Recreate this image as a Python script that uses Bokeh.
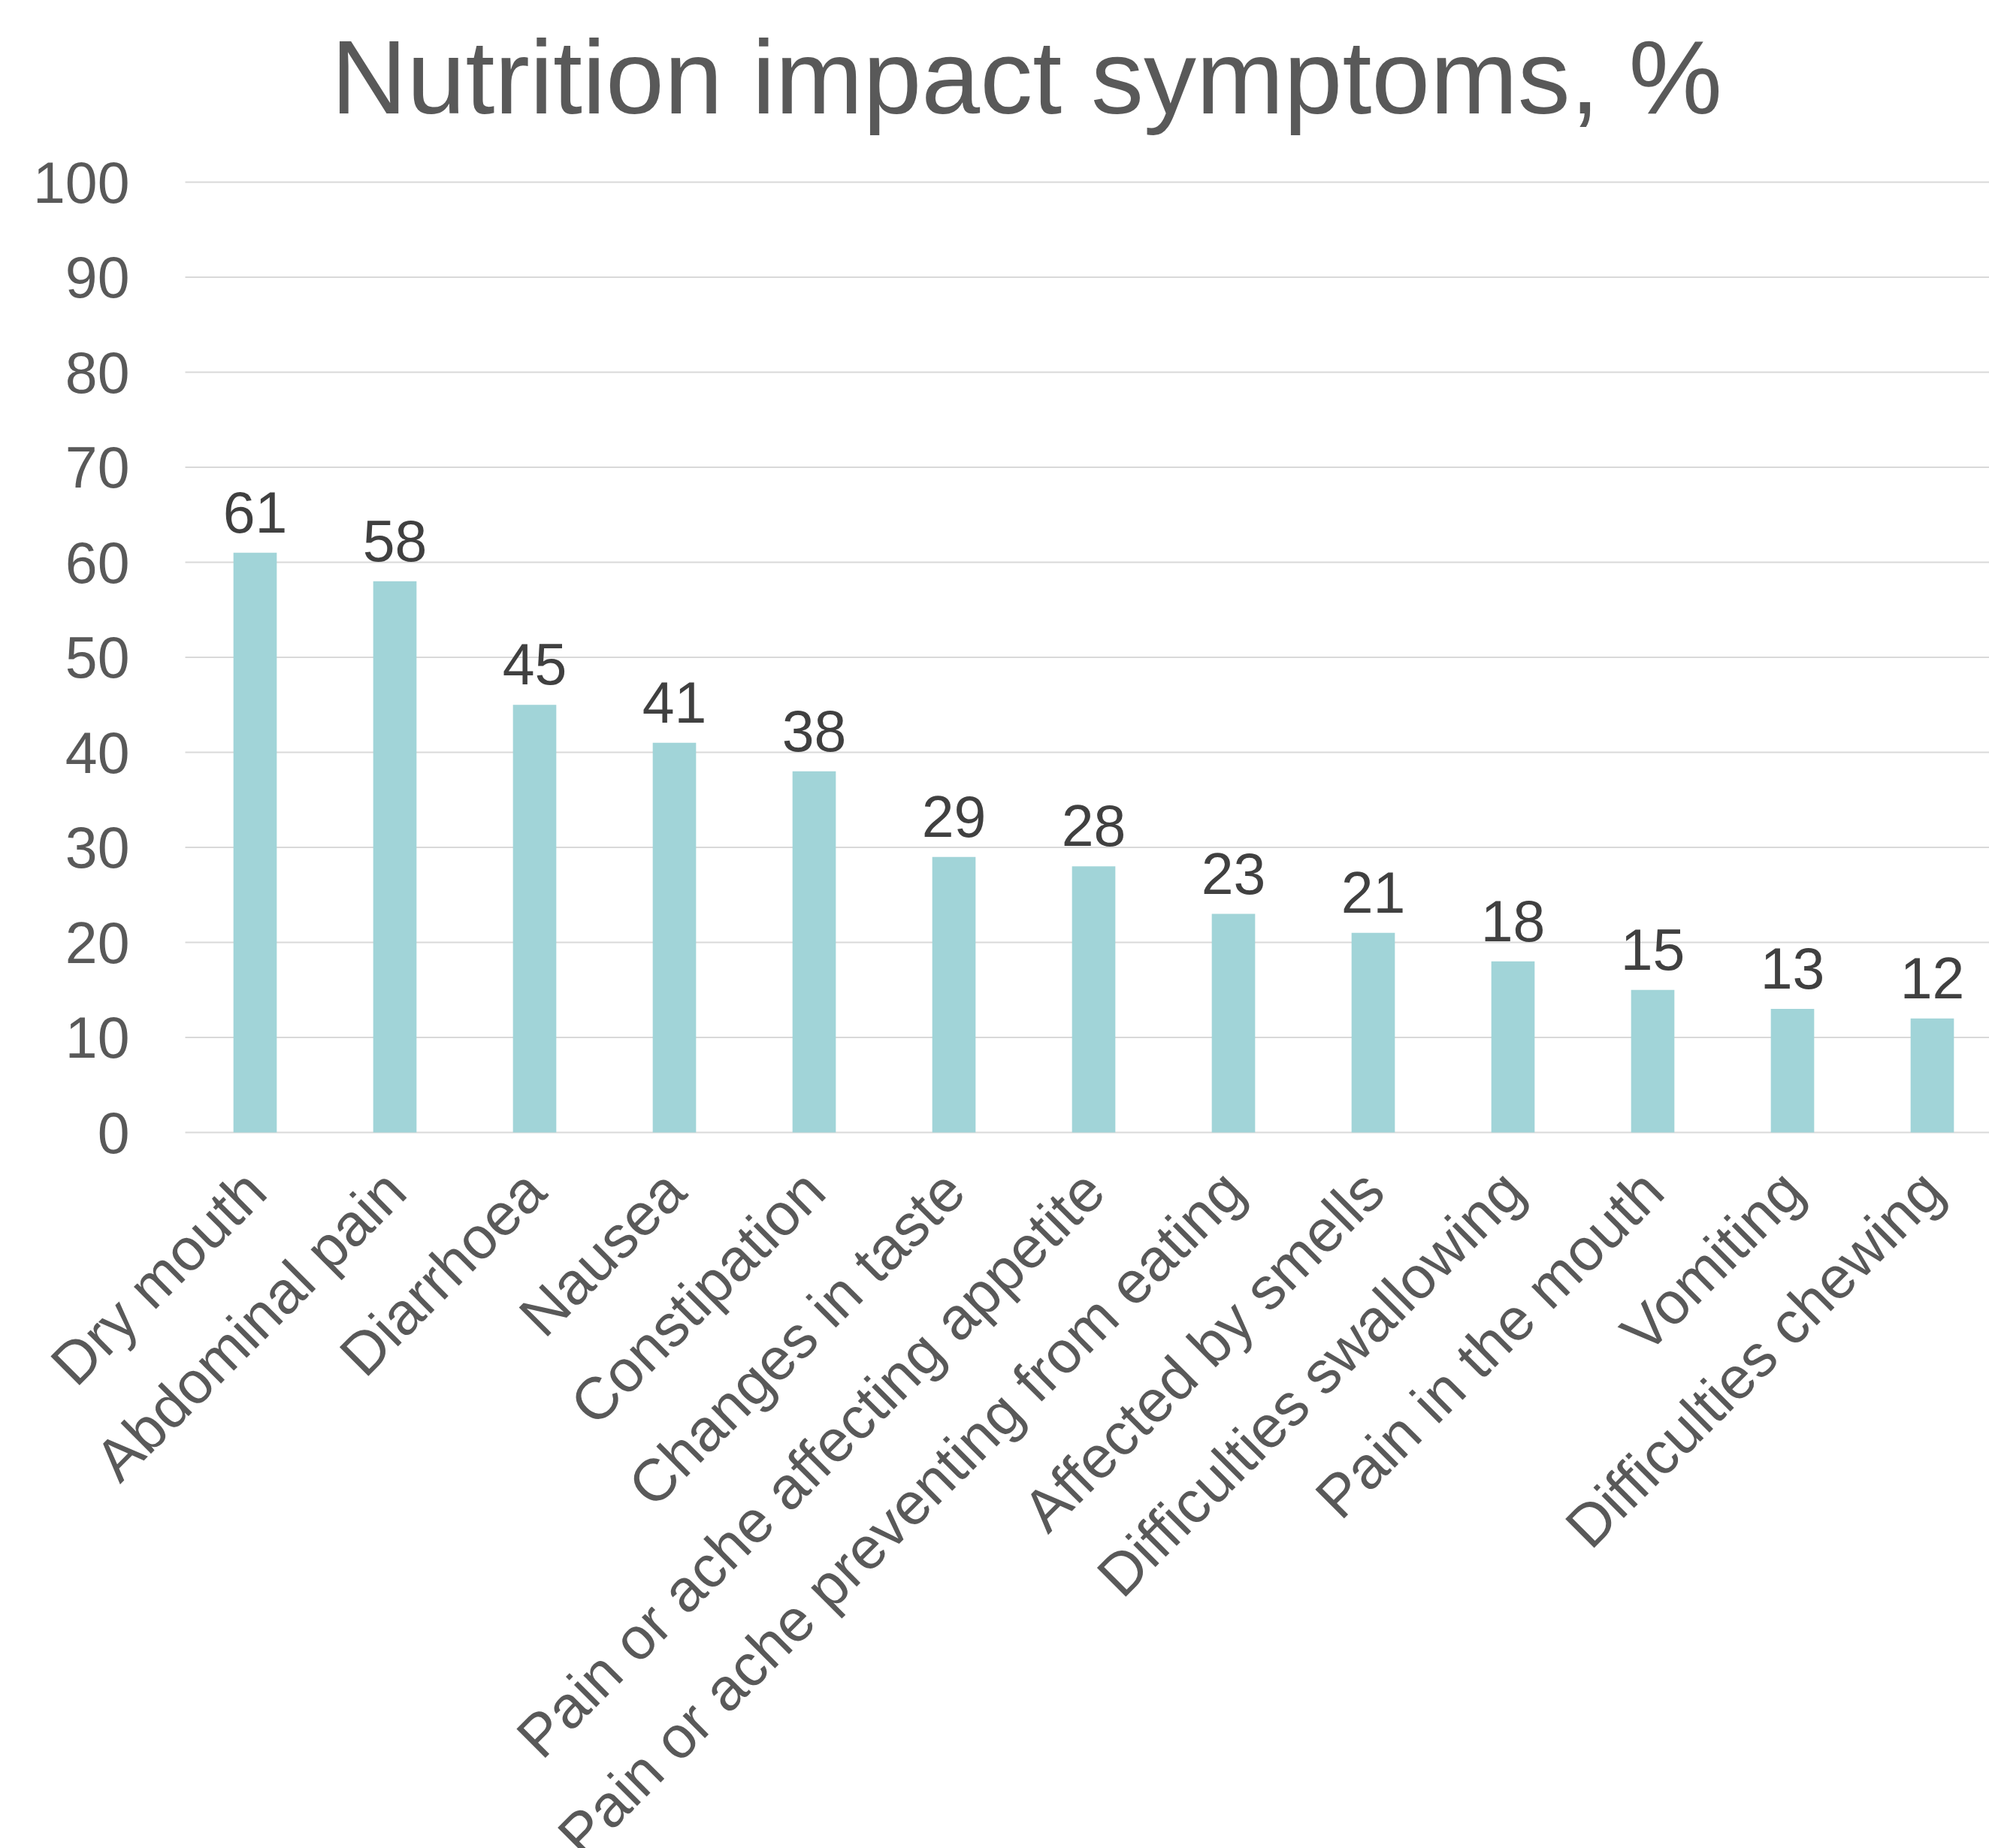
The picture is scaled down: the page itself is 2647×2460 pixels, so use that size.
import math
from bokeh.plotting import figure
from bokeh.models import Range1d, FixedTicker, ColumnDataSource, Label
from bokeh.core.properties import value
from bokeh.embed import file_html
from bokeh.resources import INLINE

categories = ["Dry mouth", "Abdominal pain", "Diarrhoea", "Nausea", "Constipation",
              "Changes in taste", "Pain or ache affecting appetite",
              "Pain or ache preventing from eating", "Affected by smells",
              "Difficulties swallowing", "Pain in the mouth", "Vomiting",
              "Difficulties chewing"]
values = [61, 58, 45, 41, 38, 29, 28, 23, 21, 18, 15, 13, 12]
y_ticks = [0, 10, 20, 30, 40, 50, 60, 70, 80, 90, 100]
title_text = "Nutrition impact symptoms, %"

# ---- layout constants (pixels of the 2647 x 2460 canvas) ----
W, H = 2647, 2460
PX_X = 186.0          # pixels per category
X0 = 339.0            # pixel centre of the first category
PX_Y = 12.65          # pixels per percent
Y0 = 1507.0           # pixel row of value 0
FONT = "Liberation Sans"

x_start = -X0 / PX_X
x_end = (W - X0) / PX_X
y_end = Y0 / PX_Y
y_start = -(H - Y0) / PX_Y
plot_left = -0.5      # left end of the category axis

xs = list(range(len(categories)))
src = ColumnDataSource(dict(x=xs, top=values, lab=[str(v) for v in values]))
grid_src = ColumnDataSource(dict(y=y_ticks, x0=[plot_left] * len(y_ticks),
                                 x1=[x_end + 1] * len(y_ticks)))

p = figure(width=W, height=H, output_backend="svg", toolbar_location=None,
           x_range=Range1d(x_start, x_end), y_range=Range1d(y_start, y_end),
           min_border_left=0, min_border_right=0, min_border_top=0,
           min_border_bottom=0)
p.outline_line_color = None
p.background_fill_color = "white"
p.border_fill_color = "white"
p.xgrid.grid_line_color = None
p.ygrid.grid_line_color = None

# horizontal gridlines at the value ticks
p.segment(x0="x0", x1="x1", y0="y", y1="y", source=grid_src,
          line_color="#D9D9D9", line_width=2)

p.vbar(x="x", top="top", bottom=0, width=0.31, source=src,
       fill_color="#A1D4D8", line_color=None)
p.text(x="x", y="top", text="lab", source=src, text_font=value(FONT),
       text_font_size="77px", text_color="#404040", text_align="center",
       text_baseline="alphabetic", y_offset=-54)

# title
p.add_layout(Label(x=(440 - X0) / PX_X, y=(Y0 - 102) / PX_Y, text=title_text,
                   text_font=FONT, text_font_size="140px", text_color="#595959",
                   text_align="left", text_baseline="alphabetic"))

# y axis (fixed at the left end of the categories)
p.yaxis.fixed_location = plot_left
p.yaxis.ticker = FixedTicker(ticks=y_ticks)
p.yaxis.axis_line_color = None
p.yaxis.major_tick_line_color = None
p.yaxis.minor_tick_line_color = None
p.yaxis.major_label_text_font = FONT
p.yaxis.major_label_text_font_size = "77px"
p.yaxis.major_label_text_color = "#595959"
p.yaxis.major_label_standoff = 68

# x axis (fixed at value 0)
p.xaxis.fixed_location = 0
p.xaxis.ticker = FixedTicker(ticks=xs)
p.xaxis.major_label_overrides = {i: c for i, c in enumerate(categories)}
p.xaxis.axis_line_color = None
p.xaxis.major_tick_line_color = None
p.xaxis.minor_tick_line_color = None
p.xaxis.major_label_orientation = math.pi / 4
p.xaxis.major_label_text_font = FONT
p.xaxis.major_label_text_font_size = "79px"
p.xaxis.major_label_text_color = "#595959"
p.xaxis.major_label_standoff = 58

open("out.html", "w").write(file_html(p, INLINE))
